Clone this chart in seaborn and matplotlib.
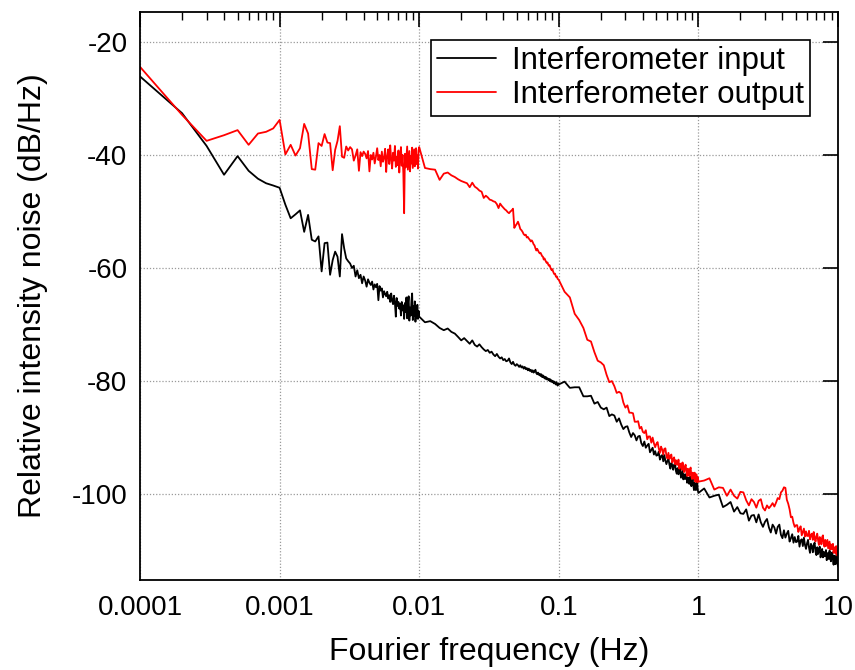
import numpy as np
import pandas as pd
import seaborn as sns
import matplotlib
matplotlib.use("Agg")
import matplotlib.pyplot as plt
from matplotlib.lines import Line2D

# Spectrum bins: four stitched segments with linear bin spacing
freq_a = np.arange(1, 101) * 1e-4     # 0.0001 .. 0.01 Hz
freq_b = np.arange(11, 101) * 1e-3    # 0.011 .. 0.1 Hz
freq_c = np.arange(11, 101) * 1e-2    # 0.11 .. 1 Hz
freq_d = np.arange(11, 101) * 1e-1    # 1.1 .. 10 Hz

# Interferometer input RIN (dB/Hz)
input_a = [
    -26.1, -32.6, -38.4, -43.5, -40.2, -42.8, -44.2, -45.0, -45.4, -45.8,
    -48.8, -51.2, -50.5, -49.8, -53.6, -50.6, -55.0, -55.3, -54.4, -60.6,
    -55.6, -55.5, -61.2, -58.6, -57.1, -58.0, -61.5, -54.0, -56.5, -58.3,
    -58.8, -59.2, -60.0, -59.6, -61.5, -60.4, -61.8, -61.2, -62.7, -61.5,
    -62.2, -63.3, -62.0, -62.6, -63.0, -62.4, -63.8, -62.9, -63.4, -62.8,
    -65.7, -63.2, -64.0, -63.6, -65.2, -64.1, -64.6, -65.0, -64.2, -65.4,
    -64.8, -66.0, -64.5, -65.8, -66.4, -64.9, -66.2, -68.6, -65.3, -66.7,
    -66.0, -67.2, -66.3, -68.4, -66.0, -67.5, -66.6, -69.0, -66.2, -67.8,
    -65.2, -68.9, -66.4, -65.0, -69.3, -67.0, -68.4, -65.8, -64.5, -69.2,
    -66.8, -68.5, -65.9, -69.5, -67.2, -68.8, -66.5, -69.0, -67.6, -68.6,
]
input_b = [
    -69.6, -69.4, -69.9, -70.6, -71.0, -70.7, -71.3, -71.6, -72.2, -72.8,
    -72.4, -72.9, -73.4, -72.8, -73.6, -73.9, -73.5, -74.0, -74.4, -74.7,
    -74.5, -75.0, -74.8, -75.3, -75.6, -75.2, -75.7, -76.0, -75.8, -76.3,
    -76.1, -76.5, -76.4, -76.0, -76.7, -77.0, -76.6, -77.1, -77.3, -77.0,
    -77.2, -77.5, -77.2, -77.6, -77.4, -77.8, -77.5, -77.9, -77.7, -78.1,
    -77.8, -78.2, -78.0, -78.4, -78.1, -78.5, -78.3, -78.0, -78.6, -78.8,
    -78.5, -78.9, -78.7, -79.1, -78.8, -79.3, -79.0, -79.4, -79.2, -79.6,
    -79.3, -79.7, -79.5, -79.8, -79.6, -80.0, -79.7, -80.1, -79.9, -80.2,
    -80.0, -80.4, -80.1, -80.3, -80.6, -80.2, -80.5, -80.8, -80.4, -80.6,
]
input_c = [
    -80.1, -81.2, -81.1, -81.1, -82.7, -82.7, -82.6, -84.0, -83.7, -84.7,
    -85.0, -84.7, -86.2, -85.9, -86.1, -87.2, -86.6, -87.7, -88.5, -88.1,
    -88.0, -89.1, -89.9, -89.2, -89.6, -90.5, -89.8, -89.7, -91.0, -91.5,
    -90.7, -91.8, -91.4, -91.1, -92.6, -92.2, -91.8, -93.0, -92.4, -93.2,
    -93.1, -92.5, -93.9, -93.3, -93.1, -94.2, -93.1, -94.1, -94.7, -94.1,
    -93.7, -94.8, -95.5, -94.5, -94.9, -95.7, -94.8, -94.6, -95.9, -96.4,
    -95.4, -96.5, -95.9, -95.5, -97.1, -96.5, -95.9, -97.4, -96.5, -97.3,
    -97.3, -96.4, -98.0, -97.3, -97.1, -98.2, -96.9, -97.9, -98.6, -97.7,
    -97.3, -98.5, -99.3, -98.0, -98.4, -99.3, -98.1, -97.8, -99.3, -99.8,
]
input_d = [
    -99.0, -100.6, -100.3, -100.1, -102.3, -101.9, -101.4, -103.1, -102.3, -103.4,
    -103.5, -102.7, -104.7, -103.8, -103.7, -105.0, -103.6, -105.0, -105.8, -104.9,
    -104.4, -105.9, -106.8, -105.4, -105.9, -107.0, -105.8, -105.4, -107.2, -107.8,
    -106.4, -107.7, -107.0, -106.5, -108.4, -107.8, -107.1, -108.6, -107.6, -108.5,
    -108.4, -107.4, -109.3, -108.2, -108.0, -109.2, -107.7, -109.0, -109.7, -108.7,
    -108.1, -109.5, -110.4, -108.8, -109.2, -110.3, -109.0, -108.6, -110.2, -110.8,
    -109.4, -110.6, -109.8, -109.3, -111.2, -110.5, -109.7, -111.2, -110.2, -111.0,
    -110.9, -109.9, -111.7, -110.6, -110.4, -111.5, -110.0, -111.3, -111.9, -110.9,
    -110.3, -111.6, -112.5, -110.9, -111.3, -112.4, -111.0, -110.6, -112.2, -112.8,
]

# Interferometer output RIN (dB/Hz)
output_a = [
    -24.4, -32.9, -37.5, -36.5, -35.6, -38.2, -36.2, -35.9, -35.3, -33.8,
    -39.9, -38.2, -40.1, -38.8, -34.5, -36.2, -42.5, -42.6, -37.9, -38.4,
    -36.3, -37.8, -37.9, -42.7, -39.1, -37.5, -34.9, -40.3, -40.5, -38.5,
    -39.2, -38.6, -39.0, -41.0, -40.1, -39.0, -42.8, -39.5, -40.2, -39.4,
    -39.8, -40.6, -39.3, -42.9, -40.0, -40.8, -39.6, -41.5, -40.3, -38.8,
    -40.9, -40.0, -42.0, -39.4, -41.2, -40.5, -38.9, -43.0, -40.2, -39.0,
    -41.6, -38.3, -40.8, -42.4, -39.6, -41.0, -38.4, -42.1, -40.3, -41.8,
    -39.2, -43.1, -40.5, -38.6, -41.9, -40.0, -43.3, -50.3, -39.8, -42.2,
    -40.4, -38.5, -42.6, -41.0, -39.3, -42.9, -40.2, -41.5, -38.7, -42.3,
    -40.6, -39.0, -42.0, -40.9, -38.8, -41.6, -40.1, -42.4, -39.2, -38.6,
]
output_b = [
    -42.3, -42.5, -42.6, -44.4, -43.3, -43.1, -43.6, -43.9, -44.3, -44.6,
    -44.8, -45.0, -45.7, -44.9, -45.6, -45.9, -46.3, -46.5, -47.6, -47.2,
    -47.5, -47.9, -48.0, -48.2, -48.3, -48.7, -49.4, -48.6, -49.0, -49.3,
    -49.6, -49.8, -50.1, -50.3, -50.0, -49.8, -49.5, -52.9, -52.5, -52.2,
    -51.8, -52.4, -53.1, -53.3, -53.6, -54.0, -54.2, -54.1, -54.6, -54.5,
    -54.8, -55.0, -55.3, -55.1, -55.4, -55.8, -56.0, -56.5, -56.9, -56.6,
    -56.9, -57.2, -57.4, -57.3, -57.6, -57.9, -58.0, -58.5, -58.3, -58.6,
    -58.9, -59.1, -59.0, -59.4, -59.6, -59.5, -59.9, -60.2, -60.4, -60.2,
    -60.6, -60.9, -61.1, -61.0, -61.4, -61.6, -61.5, -61.9, -62.0, -62.1,
]
output_c = [
    -64.2, -65.2, -68.1, -69.2, -70.6, -72.7, -73.0, -74.9, -76.4, -76.7,
    -77.2, -78.9, -80.2, -80.0, -80.9, -82.1, -81.9, -82.2, -83.8, -84.7,
    -84.3, -85.6, -85.6, -85.7, -87.2, -87.2, -87.1, -88.4, -88.1, -89.0,
    -89.2, -88.7, -90.3, -89.8, -89.8, -90.9, -90.0, -91.0, -91.7, -91.1,
    -90.8, -91.9, -92.7, -91.6, -92.1, -93.0, -92.0, -91.9, -93.2, -93.7,
    -92.7, -93.8, -93.3, -93.0, -94.4, -93.9, -93.5, -94.7, -94.0, -94.8,
    -94.8, -93.9, -95.5, -94.7, -94.6, -95.7, -94.4, -95.4, -96.1, -95.2,
    -94.8, -96.0, -96.8, -95.5, -95.9, -96.8, -95.6, -95.3, -96.8, -97.3,
    -96.2, -97.3, -96.7, -96.2, -97.8, -97.1, -96.5, -97.9, -97.0, -97.8,
]
output_d = [
    -97.6, -97.2, -99.2, -98.8, -98.9, -100.3, -99.2, -100.3, -100.8, -99.6,
    -99.7, -101.1, -102.0, -100.9, -101.4, -102.4, -101.2, -100.9, -102.4, -102.9,
    -102.0, -102.5, -102.1, -101.6, -102.2, -101.5, -100.7, -100.9, -99.7, -99.4,
    -98.8, -98.9, -101.0, -101.7, -102.7, -104.1, -104.0, -105.1, -105.8, -105.5,
    -105.5, -106.7, -106.1, -105.7, -107.3, -106.7, -106.1, -107.5, -106.6, -107.4,
    -107.4, -106.5, -108.0, -107.2, -107.0, -108.1, -106.7, -107.7, -108.4, -107.5,
    -107.0, -108.2, -109.0, -107.6, -108.0, -108.9, -107.6, -107.3, -108.8, -109.3,
    -108.1, -109.2, -108.6, -108.1, -109.6, -109.0, -108.4, -109.8, -108.9, -109.7,
    -109.7, -108.8, -110.4, -109.6, -109.4, -110.5, -109.2, -110.2, -110.9, -110.1,
]

series_names = ["Interferometer input", "Interferometer output"]
series_colors = ["#000000", "#ff0000"]
y_ticks = [-20, -40, -60, -80, -100]
x_ticks = [1e-4, 1e-3, 1e-2, 1e-1, 1, 10]
x_ticklabels = ["0.0001", "0.001", "0.01", "0.1", "1", "10"]

freq = np.concatenate([freq_a, freq_b, freq_c, freq_d])
input_rin = np.concatenate([input_a, input_b, input_c, input_d])
output_rin = np.concatenate([output_a, output_b, output_c, output_d])

df = pd.DataFrame({
    "freq": np.concatenate([freq, freq]),
    "rin": np.concatenate([input_rin, output_rin]),
    "series": [series_names[0]] * len(freq) + [series_names[1]] * len(freq),
})

sns.set_theme(style="white")
plt.rcParams["font.family"] = ["Liberation Sans", "DejaVu Sans"]
plt.rcParams["axes.unicode_minus"] = False
plt.rcParams["text.color"] = "black"
plt.rcParams["axes.labelcolor"] = "black"
plt.rcParams["xtick.color"] = "black"
plt.rcParams["ytick.color"] = "black"

fig = plt.figure(figsize=(8.55, 6.7), dpi=100)
ax = fig.add_axes([140 / 855, 1 - 580 / 670, 698 / 855, 568 / 670])
ax.set_xscale("log")

sns.lineplot(
    data=df, x="freq", y="rin", hue="series", hue_order=series_names,
    palette=series_colors, estimator=None, sort=False, linewidth=1.3,
    legend=False, ax=ax,
)

ax.set_xlim(1e-4, 10)
ax.set_ylim(-115.2, -14.7)
ax.set_xticks(x_ticks)
ax.set_xticklabels(x_ticklabels)
ax.set_yticks(y_ticks)
ax.yaxis.set_minor_locator(matplotlib.ticker.NullLocator())

ax.grid(True, which="major", linestyle=(0, (1, 1.5)), color="#9a9a9a", linewidth=0.9)
ax.tick_params(which="both", direction="in", top=True, right=True, colors="black")
ax.tick_params(which="major", length=11, width=1.2, labelsize=20)
ax.tick_params(which="minor", length=6, width=1.0)
ax.tick_params(axis="x", which="major", pad=11)
ax.tick_params(axis="y", which="major", pad=9)
for spine in ax.spines.values():
    spine.set_color("black")
    spine.set_linewidth(1.3)

ax.set_xlabel("Fourier frequency (Hz)", fontsize=23, labelpad=11)
ax.set_ylabel("Relative intensity noise (dB/Hz)", fontsize=23, labelpad=17)

handles = [Line2D([0], [0], color=c, lw=1.3) for c in series_colors]
leg = ax.legend(
    handles, series_names, loc="upper right", bbox_to_anchor=(0.96, 0.951),
    fontsize=22.5, frameon=True, fancybox=False, framealpha=1,
    edgecolor="black", handlelength=1.9, handletextpad=0.5,
    labelspacing=0.12, borderpad=0.2, borderaxespad=0,
)
leg.get_frame().set_linewidth(1.2)

fig.savefig("out.png", dpi=100)
